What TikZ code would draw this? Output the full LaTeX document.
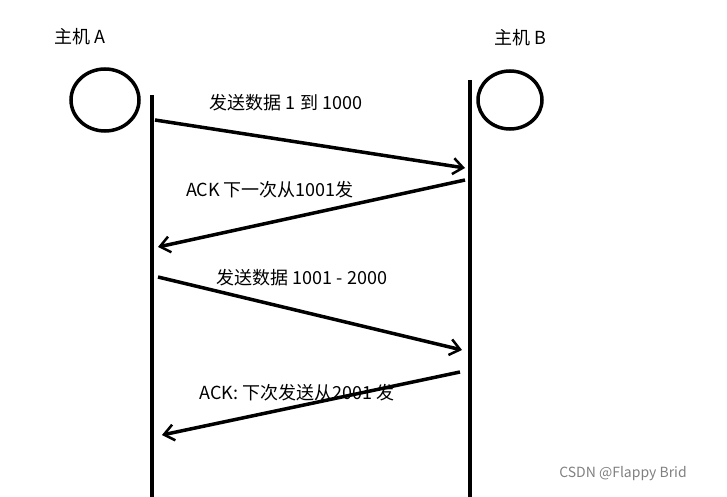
\documentclass[tikz,border=0pt]{standalone}
\usepackage{fontspec}
\setmainfont{Noto Sans CJK SC}
\usetikzlibrary{arrows.meta,shapes.geometric}

\begin{document}
\begin{tikzpicture}[
        x=1pt,y=-1pt,
        font=\fontsize{18}{20}\selectfont,
        %styles
        HostCfg/.style={draw,line width=3.5pt,ellipse,minimum width=68pt,minimum height=62pt},
        LineCfg/.style={line width=3.5pt},
        MsgCfg/.style={line width=3.5pt,-{Straight Barb[length=10pt,width=16pt,line width=2.5pt]}}
    ]
    \useasboundingbox (0,0) rectangle (727,497);
    % hosts
    \node[HostCfg] (HA) at (105,100) {};
    \node[HostCfg,minimum width=64pt,minimum height=58pt] (HB) at (510,100) {};
    \node (LA) at (80,37) {主机 A};
    \node (LB) at (520,38) {主机 B};
    % time lines
    \coordinate (TA) at (152,95);
    \coordinate (TAe) at (152,497);
    \coordinate (TB) at (470,80);
    \coordinate (TBe) at (470,497);
    \draw[LineCfg] (TA) -- (TAe);
    \draw[LineCfg] (TB) -- (TBe);
    % messages
    \coordinate (M1s) at (155,120); \coordinate (M1e) at (465,168);
    \coordinate (M2s) at (465,180); \coordinate (M2e) at (158,247);
    \coordinate (M3s) at (158,277); \coordinate (M3e) at (462,350);
    \coordinate (M4s) at (460,372); \coordinate (M4e) at (162,435);
    \draw[MsgCfg] (M1s) -- (M1e);
    \draw[MsgCfg] (M2s) -- (M2e);
    \draw[MsgCfg] (M3s) -- (M3e);
    \draw[MsgCfg] (M4s) -- (M4e);
    \node (T1) at (286,103) {发送数据 1 到 1000};
    \node (T2) at (270,190) {ACK 下一次从1001发};
    \node (T3) at (302,278) {发送数据 1001 - 2000};
    \node (T4) at (297,393) {ACK: 下次发送从2001 发};
    \node[gray,font=\fontsize{14}{16}\selectfont] (WM) at (623,474) {CSDN @Flappy Brid};
\end{tikzpicture}
\end{document}
